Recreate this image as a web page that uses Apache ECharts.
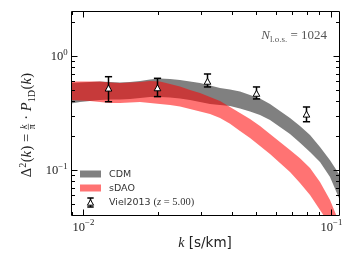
<!DOCTYPE html>
<html><head><meta charset="utf-8">
<script src="https://cdn.jsdelivr.net/npm/echarts@6/dist/echarts.min.js"></script>
<style>html,body{margin:0;padding:0;background:#fff}#c{width:357px;height:255px}</style>
</head><body><div id="c"></div>
<script>
// ---------------- data ----------------
const kValues = [0.00892,0.00970,0.01064,0.01168,0.01282,0.01407,0.01545,0.01696,0.01862,0.02043,0.02243,0.02461,0.02702,0.02966,0.03255,0.03573,0.03922,0.04304,0.04724,0.05185,0.05691,0.06246,0.06856,0.07524,0.08260,0.09066,0.09952,0.1082];
const cdmUpper = [0.580,0.586,0.592,0.598,0.592,0.586,0.592,0.604,0.622,0.635,0.628,0.616,0.598,0.580,0.551,0.524,0.508,0.488,0.455,0.424,0.379,0.329,0.286,0.243,0.203,0.159,0.122,0.0922];
const cdmLower = [0.383,0.395,0.403,0.411,0.415,0.415,0.420,0.428,0.437,0.437,0.433,0.424,0.411,0.395,0.379,0.372,0.364,0.346,0.326,0.304,0.2745,0.238,0.207,0.173,0.144,0.1175,0.0869,0.0568];
const sdaoUpper = [0.598,0.598,0.598,0.598,0.586,0.580,0.586,0.592,0.604,0.598,0.568,0.540,0.503,0.4735,0.437,0.403,0.357,0.316,0.280,0.243,0.207,0.176,0.150,0.127,0.104,0.0785,0.0545,0.035];
const sdaoLower = [0.411,0.407,0.403,0.395,0.387,0.387,0.391,0.395,0.387,0.379,0.372,0.360,0.343,0.326,0.310,0.286,0.254,0.220,0.191,0.162,0.138,0.115,0.096,0.077,0.0604,0.0446,0.033,0.027];
const vielK  = [0.01259,0.01995,0.03162,0.05012,0.07943];
const vielP  = [0.521,0.524,0.598,0.469,0.308];
const vielLo = [0.397,0.440,0.535,0.420,0.265];
const vielHi = [0.658,0.637,0.695,0.535,0.357];
const xMajorTicks = [0.01, 0.1];
const xMajorExp = ['\u22122', '\u22121'];
const xMinorTicks = [0.009,0.02,0.03,0.04,0.05,0.06,0.07,0.08,0.09];
const yMajorTicks = [0.1, 1];
const yMajorExp = ['\u22121', '0'];
const yMinorTicks = [0.05,0.06,0.07,0.08,0.09,0.2,0.3,0.4,0.5,0.6,0.7,0.8,0.9,2];
const X_MIN = 0.00892, X_MAX = 0.1082, Y_MIN = 0.0403, Y_MAX = 2.48;

// ---------------- text helpers ----------------
const SERIF = '"Liberation Serif", "DejaVu Serif", serif';
const SANS = '"DejaVu Sans", sans-serif';
const mctx = document.createElement('canvas').getContext('2d');
function fnt(s, it, fam){ return (it ? 'italic ' : '') + s + 'px ' + (fam || SERIF); }
function meas(t, f){ mctx.font = f; return mctx.measureText(t).width; }
function txt(t, x, y, f, fill, align){
  return {type:'text', x:x, y:y, silent:true,
    style:{text:t, font:f, fill:fill, align:align||'left', verticalAlign:'middle', textAlign:align||'left', textVerticalAlign:'middle'}};
}
// tokens relative to baseline 0; anchor: 'left'|'center'|'right'
function layout(tokens, fill, anchor, bx, by){
  let x = 0; const parts = [];
  for (const tk of tokens){
    if (tk.frac){
      const s = tk.s, S0 = tk.S0;
      const fn = fnt(s, true), fd = fnt(s, false);
      const W = Math.max(meas(tk.n, fn), meas(tk.d, fd)) + 2;
      const bar = -0.26 * S0;
      parts.push({kind:'t', t:tk.n, x:x + W/2, y:bar - 0.42*s, f:fn, a:'center'});
      parts.push({kind:'t', t:tk.d, x:x + W/2, y:bar + 0.42*s, f:fd, a:'center'});
      parts.push({kind:'r', x:x + 0.5, y:bar - 0.3, w:W - 1, h:0.6});
      x += W + (tk.gap || 0);
      continue;
    }
    const f = fnt(tk.s, tk.i, tk.f);
    parts.push({kind:'t', t:tk.t, x:x, y:-0.3*tk.s + (tk.dy || 0), f:f, a:'left'});
    x += meas(tk.t, f) + (tk.gap || 0);
  }
  const off = anchor === 'center' ? -x/2 : anchor === 'right' ? -x : 0;
  return parts.map(p => p.kind === 't'
    ? txt(p.t, bx + p.x + off, by + p.y, p.f, fill, p.a)
    : {type:'rect', silent:true, shape:{x:bx + p.x + off, y:by + p.y, width:p.w, height:p.h}, style:{fill:fill}});
}
function powLabel(exp, s){
  return [{t:'10', s:s}, {t:exp, s:s*0.7, dy:-s*0.42}];
}

// ---------------- series ----------------
function bandSeries(name, lo, hi, color, z){
  return {
    type:'custom', name:name, coordinateSystem:'cartesian2d', z:z, silent:true, animation:false,
    data: kValues.map((k, i) => [k, lo[i], hi[i]]),
    encode:{x:0, y:[1, 2]},
    renderItem(params, api){
      if (params.dataIndex !== 0) return null;
      const pts = [];
      for (let i = 0; i < kValues.length; i++) pts.push(api.coord([kValues[i], hi[i]]));
      for (let i = kValues.length - 1; i >= 0; i--) pts.push(api.coord([kValues[i], lo[i]]));
      const cs = params.coordSys;
      return {type:'polygon', shape:{points:pts}, style:{fill:color},
        clipPath:{type:'rect', shape:{x:cs.x, y:cs.y, width:cs.width, height:cs.height}}};
    }
  };
}

const errSeries = {
  type:'custom', name:'Viel2013', coordinateSystem:'cartesian2d', z:5, silent:true, animation:false,
  data: vielK.map((k, i) => [k, vielP[i], vielLo[i], vielHi[i]]),
  encode:{x:0, y:[1, 2, 3]},
  renderItem(params, api){
    const p = api.coord([api.value(0), api.value(1)]);
    const lo = api.coord([api.value(0), api.value(2)]);
    const hi = api.coord([api.value(0), api.value(3)]);
    const x = Math.round(p[0]) + 0.5, y = p[1];
    const ls = {stroke:'#000', lineWidth:1.5};
    return {type:'group', children:[
      {type:'line', shape:{x1:x, y1:hi[1], x2:x, y2:lo[1]}, style:ls},
      {type:'line', shape:{x1:x-3.6, y1:hi[1], x2:x+3.6, y2:hi[1]}, style:ls},
      {type:'line', shape:{x1:x-3.6, y1:lo[1], x2:x+3.6, y2:lo[1]}, style:ls},
      {type:'polygon', shape:{points:[[x, y-3.2],[x-3.3, y+2.8],[x+3.3, y+2.8]]}, style:{fill:'#fff', stroke:'#000', lineWidth:1}}
    ]};
  }
};

const axisSeries = {
  type:'custom', coordinateSystem:'cartesian2d', z:10, silent:true, animation:false,
  data:[[X_MIN, Y_MIN]],
  renderItem(params, api){
    const cs = params.coordSys;
    const L = Math.floor(cs.x) + 0.5, T = Math.floor(cs.y) + 0.5;
    const R = Math.floor(cs.x + cs.width) + 0.5, B = Math.floor(cs.y + cs.height) + 0.5;
    const ch = [];
    const st = {stroke:'#000', lineWidth:1};
    const vt = (v, len) => {
      const px = Math.round(api.coord([v, Y_MIN])[0]) + 0.5;
      ch.push({type:'line', shape:{x1:px, y1:B, x2:px, y2:B-len}, style:st});
      ch.push({type:'line', shape:{x1:px, y1:T, x2:px, y2:T+len}, style:st});
      return px;
    };
    const ht = (v, len) => {
      const py = Math.round(api.coord([X_MIN, v])[1]) + 0.5;
      ch.push({type:'line', shape:{x1:L, y1:py, x2:L+len, y2:py}, style:st});
      ch.push({type:'line', shape:{x1:R, y1:py, x2:R-len, y2:py}, style:st});
      return py;
    };
    xMinorTicks.forEach(v => vt(v, 3.5));
    yMinorTicks.forEach(v => ht(v, 3.5));
    xMajorTicks.forEach((v, i) => {
      const px = vt(v, 6);
      layout(powLabel(xMajorExp[i], 12.5), '#222', 'center', px, B + 15.5).forEach(e => ch.push(e));
    });
    yMajorTicks.forEach((v, i) => {
      const py = ht(v, 6);
      layout(powLabel(yMajorExp[i], 12.5), '#222', 'right', L - 4, py + 4).forEach(e => ch.push(e));
    });
    ch.push({type:'rect', shape:{x:L, y:T, width:R-L, height:B-T}, style:{fill:null, stroke:'#000', lineWidth:1}});
    return {type:'group', children:ch};
  }
};

// ---------------- static text / legend ----------------
const S = 14.5;
const ylabTokens = [
  {t:'\u0394', s:S}, {t:'2', s:S*0.7, dy:-S*0.42, gap:0.5},
  {t:'(', s:S}, {t:'k', s:S, i:true, gap:0.5}, {t:')', s:S},
  {t:' = ', s:S},
  {frac:true, n:'k', d:'\u03c0', s:S*0.68, S0:S},
  {t:' \u00b7 ', s:S},
  {t:'P', s:S, i:true}, {t:'1D', s:S*0.7, dy:S*0.22, gap:0.5},
  {t:'(', s:S}, {t:'k', s:S, i:true, gap:0.5}, {t:')', s:S}
];
const ylabGroup = {type:'group', x:32, y:125, rotation:Math.PI/2, silent:true,
  children: layout(ylabTokens, '#222', 'center', 0, 0)};

const xlab = layout([{t:'k', s:14, i:true}, {t:' [s/km]', s:13.5, f:SANS}], '#222', 'center', 205, 248);
const nlos = layout([{t:'N', s:13, i:true}, {t:'l.o.s.', s:9, dy:2.8}, {t:' = 1024', s:13}], '#555', 'right', 327, 39.5);

const legColor = '#333';
const legend = [
  {type:'rect', silent:true, shape:{x:80, y:170.5, width:21, height:7}, style:{fill:'#808080'}},
  {type:'rect', silent:true, shape:{x:80, y:184.5, width:21, height:7}, style:{fill:'rgba(255,0,0,0.55)'}},
  {type:'line', silent:true, shape:{x1:90.5, y1:198, x2:90.5, y2:207}, style:{stroke:'#000', lineWidth:1.5}},
  {type:'line', silent:true, shape:{x1:87.3, y1:198, x2:93.7, y2:198}, style:{stroke:'#000', lineWidth:1.5}},
  {type:'line', silent:true, shape:{x1:87.3, y1:207, x2:93.7, y2:207}, style:{stroke:'#000', lineWidth:1.5}},
  {type:'polygon', silent:true, shape:{points:[[90.5,199.6],[87.4,205.2],[93.6,205.2]]}, style:{fill:'#fff', stroke:'#000', lineWidth:1}},
  ...layout([{t:'CDM', s:9.5, f:SANS}], legColor, 'left', 109, 177.3),
  ...layout([{t:'sDAO', s:9.5, f:SANS}], legColor, 'left', 109, 191.3),
  ...layout([{t:'Viel2013 ', s:9.5, f:SANS}, {t:'(', s:10.5}, {t:'z', s:10.5, i:true}, {t:' = 5.00)', s:10.5}], legColor, 'left', 109, 205.8)
];

// ---------------- chart ----------------
const chart = echarts.init(document.getElementById('c'), null, {renderer:'canvas'});
chart.setOption({
  animation:false,
  backgroundColor:'#fff',
  grid:{left:71, top:11, right:18, bottom:40, show:false},
  xAxis:{type:'log', logBase:10, min:X_MIN, max:X_MAX,
    axisLine:{show:false}, axisTick:{show:false}, axisLabel:{show:false}, splitLine:{show:false}, minorTick:{show:false}},
  yAxis:{type:'log', logBase:10, min:Y_MIN, max:Y_MAX,
    axisLine:{show:false}, axisTick:{show:false}, axisLabel:{show:false}, splitLine:{show:false}, minorTick:{show:false}},
  series:[
    bandSeries('CDM', cdmLower, cdmUpper, '#808080', 1),
    bandSeries('sDAO', sdaoLower, sdaoUpper, 'rgba(255,0,0,0.55)', 2),
    errSeries,
    axisSeries
  ],
  graphic:[ylabGroup, ...xlab, ...nlos, ...legend]
});
</script></body></html>
